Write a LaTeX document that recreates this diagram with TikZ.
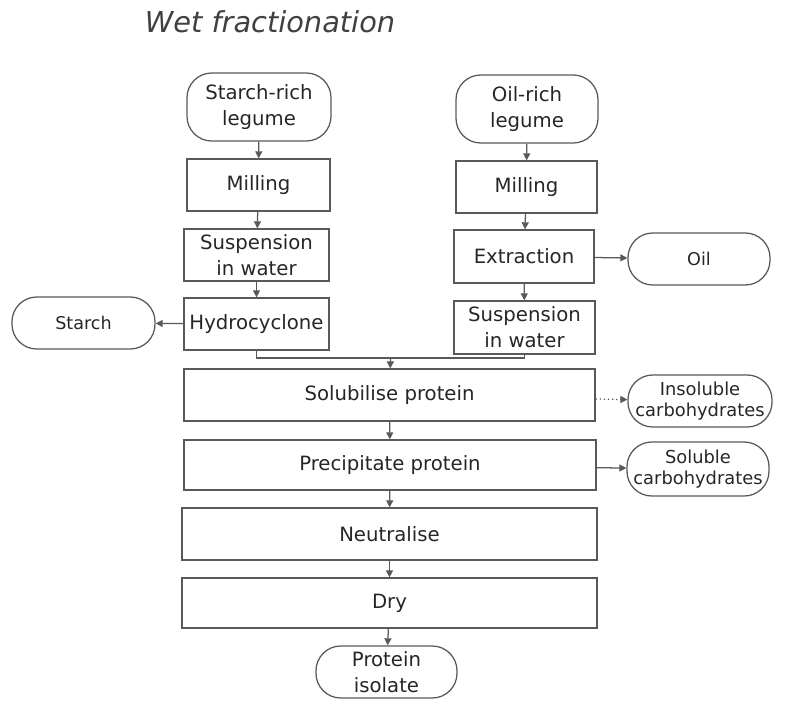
\documentclass[tikz,border=0pt]{standalone}
\usepackage{fontspec}
\setmainfont{DejaVu Sans}
\usetikzlibrary{arrows.meta}

\tikzset{
  stepbox/.style={draw=black!65,line width=0.9pt,align=center,inner sep=0pt,
    font=\fontsize{14}{18.5}\selectfont,text=black!85},
  endbox/.style={stepbox,rounded corners=0.62cm},
  flow/.style={draw=black!65,line width=0.9pt,-{Triangle[length=5pt,width=5pt]}}
}

\begin{document}
\begin{tikzpicture}[x=0.025cm,y=-0.025cm]
\useasboundingbox (0,0) rectangle (797,704);
\node[font=\fontsize{20.5}{24}\itshape,text=black!75] (title) at (270,22) {Wet fractionation};
% starch-rich branch
\node[endbox,minimum width=3.6cm,minimum height=1.7cm] (srl) at (259,107) {Starch-rich\\legume};
\node[stepbox,minimum width=3.575cm,minimum height=1.3cm] (ml1) at (258.5,185) {Milling};
\node[stepbox,minimum width=3.625cm,minimum height=1.3cm] (sw1) at (256.5,255) {Suspension\\in water};
\node[stepbox,minimum width=3.625cm,minimum height=1.3cm] (hyd) at (256.5,324) {Hydrocyclone};
\node[endbox,minimum width=3.575cm,minimum height=1.3cm,font=\fontsize{12.5}{15}\selectfont] (starch) at (83.5,323) {Starch};
% oil-rich branch
\node[endbox,minimum width=3.55cm,minimum height=1.7cm] (orl) at (527,109) {Oil-rich\\legume};
\node[stepbox,minimum width=3.525cm,minimum height=1.3cm] (ml2) at (526.5,187) {Milling};
\node[stepbox,minimum width=3.5cm,minimum height=1.325cm] (ext) at (524,256.5) {Extraction};
\node[endbox,minimum width=3.55cm,minimum height=1.3cm,font=\fontsize{12.5}{15}\selectfont] (oil) at (699,259) {Oil};
\node[stepbox,minimum width=3.525cm,minimum height=1.325cm] (sw2) at (524.5,327.5) {Suspension\\in water};
% common steps
\node[stepbox,minimum width=10.275cm,minimum height=1.3cm] (sol) at (389.5,395) {Solubilise protein};
\node[endbox,minimum width=3.6cm,minimum height=1.3cm,font=\fontsize{12.7}{15.5}\selectfont] (insol) at (700,401) {Insoluble\\carbohydrates};
\node[stepbox,minimum width=10.3cm,minimum height=1.25cm] (prec) at (390,465) {Precipitate protein};
\node[endbox,minimum width=3.55cm,minimum height=1.35cm,font=\fontsize{12.7}{15.5}\selectfont] (solc) at (698,469) {Soluble\\carbohydrates};
\node[stepbox,minimum width=10.375cm,minimum height=1.3cm] (neut) at (389.5,534) {Neutralise};
\node[stepbox,minimum width=10.375cm,minimum height=1.25cm] (dry) at (389.5,603) {Dry};
\node[endbox,minimum width=3.525cm,minimum height=1.3cm] (prot) at (386.5,672) {Protein\\isolate};
\coordinate (mj) at (390.5,358);

\draw[flow] (srl)--(ml1);
\draw[flow] (ml1)--(sw1);
\draw[flow] (sw1)--(hyd);
\draw[flow] (hyd)--(starch);
\draw[flow] (orl)--(ml2);
\draw[flow] (ml2)--(ext);
\draw[flow] (ext)--(oil);
\draw[flow] (ext)--(sw2);
\draw[draw=black!65,line width=0.9pt] (hyd.south) |- (mj) -| (sw2.south);
\draw[flow] (mj)--(sol);
\draw[flow,dotted] (sol)--(insol);
\draw[flow] (sol)--(prec);
\draw[flow] (prec)--(solc);
\draw[flow] (prec)--(neut);
\draw[flow] (neut)--(dry);
\draw[flow] (dry)--(prot);
\end{tikzpicture}
\end{document}
